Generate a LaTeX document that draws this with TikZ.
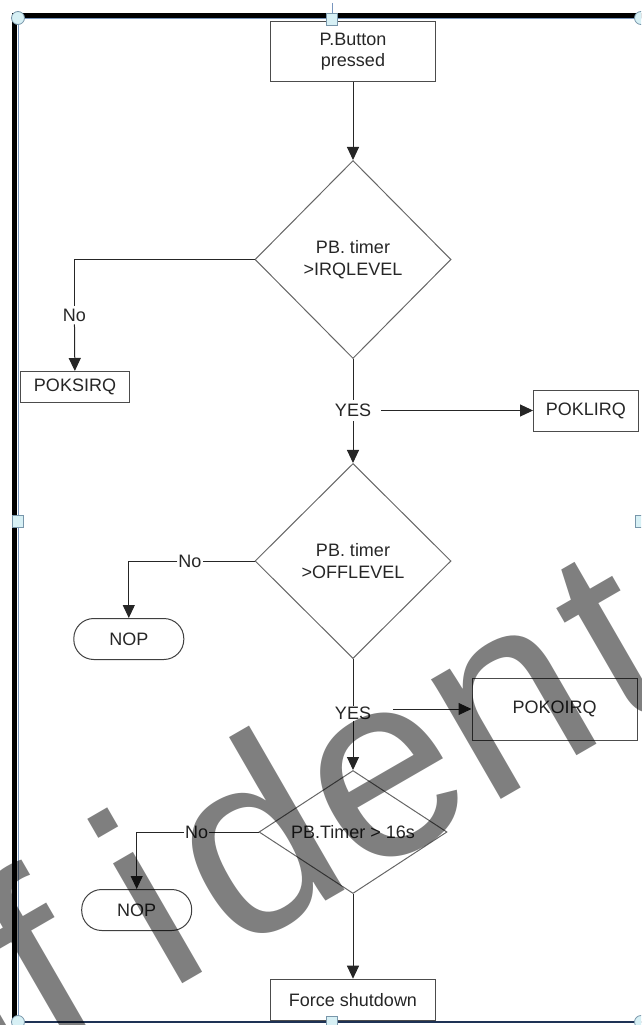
\documentclass[tikz,border=0pt]{standalone}
\usepackage{fontspec}
\setmainfont{Liberation Sans}
\usetikzlibrary{shapes.geometric,arrows.meta}
\definecolor{selblue}{RGB}{120,150,190}
\definecolor{selnavy}{RGB}{30,50,85}
\definecolor{handlefill}{RGB}{215,240,245}
\definecolor{handleline}{RGB}{120,150,170}
\begin{document}
\begin{tikzpicture}[x=1pt,y=-1pt,
    font=\fontsize{18}{21.6}\selectfont,
    box/.style={rectangle, draw=black!70, line width=1pt, text=black!85, align=center, inner sep=0pt},
    dec/.style={diamond, draw=black!60, line width=1pt, text=black!85, align=center, inner sep=0pt},
    nop/.style={rectangle, draw=black!75, line width=1pt, rounded corners=20pt, text=black!85,
        inner sep=0pt, minimum width=110pt, minimum height=41pt},
    lbl/.style={fill=white, text=black!85, inner sep=3pt},
    line/.style={draw=black!85, line width=1pt},
    arr/.style={line, -{Triangle[length=13pt,width=12pt]}},
    handle/.style={draw=handleline, fill=handlefill, line width=0.8pt}]
    \useasboundingbox (0,0) rectangle (641,1025);
    \clip (0,0) rectangle (641,1025);
    % cadre et selection
    \draw[line width=5pt] (14.8,1020) -- (14.8,15.8) -- (650,15.8);
    \draw[selblue, line width=1pt] (18,1021) -- (18,19) -- (650,19);
    \draw[selnavy, line width=2pt] (18,1022) -- (650,1022);
    \draw[selblue, line width=1pt] (332,3) -- (332,13);
    % noeuds
    \node[box, minimum width=165pt, minimum height=60pt] (press) at (353,51.7) {P.Button\\pressed};
    \node[dec, minimum width=196pt, minimum height=198pt] (irq) at (353,259.5) {PB. timer\\>IRQLEVEL};
    \node[lbl] (no1) at (74.4,315) {No};
    \node[box, minimum width=109pt, minimum height=31pt] (poksirq) at (75,387) {POKSIRQ};
    \node[lbl, inner ysep=4pt, inner xsep=10pt] (yes1) at (353,410.5) {YES};
    \node[box, minimum width=104.5pt, minimum height=41pt] (poklirq) at (585.8,410.5) {POKLIRQ};
    \node[dec, minimum width=196pt, minimum height=195pt] (off) at (353,561) {PB. timer\\>OFFLEVEL};
    \node[lbl, inner xsep=1pt] (no2) at (190,561) {No};
    \node[nop] (nop1) at (128.8,639) {NOP};
    \node[lbl, inner ysep=1pt, inner xsep=22pt] (yes2) at (353,713.3) {YES};
    \node[box, minimum width=165pt, minimum height=62pt] (pokoirq) at (554.5,709) {POKOIRQ};
    \node[dec, aspect=1.53, minimum width=188pt, minimum height=123pt] (t16) at (353,832) {PB.Timer > 16s};
    \node[lbl, inner xsep=1pt] (no3) at (196.7,832) {No};
    \node[nop] (nop2) at (136.7,910) {NOP};
    \node[box, minimum width=165pt, minimum height=41pt] (force) at (353,999.7) {Force shutdown};
    % fleches
    \draw[arr] (press) -- (irq);
    \draw[line] (irq.west) -| (no1.north);
    \draw[arr] (no1) -- (poksirq);
    \draw[line] (irq) -- (yes1);
    \draw[arr] (yes1) -- (off);
    \draw[arr] (yes1.east) -- (poklirq.west);
    \draw[line] (off.west) -- (no2);
    \draw[arr] (no2.west) -| (nop1.north);
    \draw[line] (off) -- (yes2);
    \draw[arr] (yes2) -- (t16);
    \draw[arr] (yes2.east |- pokoirq.west) -- (pokoirq.west);
    \draw[line] (t16.west) -- (no3);
    \draw[arr] (no3.west) -| (nop2.north);
    \draw[arr] (t16) -- (force);
    % poignees
    \draw[handle] (18,18) circle (6.5pt);
    \draw[handle] (641,18) circle (6.5pt);
    \draw[handle] (18,1022) circle (6.5pt);
    \draw[handle] (641,1022) circle (6.5pt);
    \draw[handle] (326.5,13) rectangle (337.5,25);
    \draw[handle] (326.5,1016) rectangle (337.5,1028);
    \draw[handle] (12.5,515) rectangle (23.5,527);
    \draw[handle] (635,515) rectangle (646,527);
    % filigrane
    \node[text=black, text opacity=0.5, rotate=30, anchor=base west, inner sep=0pt,
        font=\fontsize{262}{262}\selectfont\addfontfeatures{Ligatures=NoCommon}] (stamp) at (-379.2,1308.4)
        {C\kern6pt o\kern6pt n\kern6pt f\kern60pt i\kern18pt d\kern0pt e\kern0pt n\kern12pt t\kern70pt i\kern6pt a\kern6pt l};
\end{tikzpicture}
\end{document}
